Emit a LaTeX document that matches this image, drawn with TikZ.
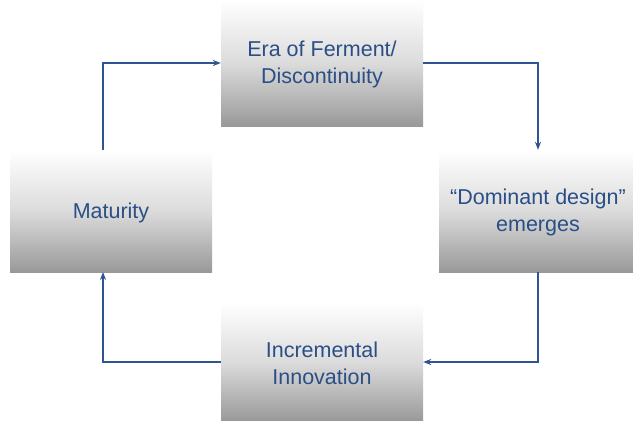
\documentclass[tikz,border=0pt]{standalone}
\usepackage{fontspec}
\setmainfont{Liberation Sans}
\usetikzlibrary{arrows.meta}
\definecolor{txtblue}{HTML}{2A4F86}
\definecolor{lineblue}{HTML}{2E5591}
\begin{document}
\begin{tikzpicture}[x=1pt,y=-1pt,
  box/.style={rectangle, inner sep=0pt, top color=white, bottom color=black!40,
    middle color=black!14, text=txtblue, align=center,
    font=\fontsize{21.5}{27}\selectfont},
  conn/.style={draw=lineblue, line width=1.4pt, -{Stealth[length=8pt,width=6pt]}}]
\useasboundingbox (0,0) rectangle (633,421);
\fill[white] (0,0) rectangle (633,421);
\node[box, minimum width=202pt, minimum height=126pt] (ferment) at (322,63) {\rule{0pt}{19pt}Era of Ferment/\\Discontinuity};
\node[box, minimum width=202pt, minimum height=122pt] (maturity) at (111,211) {\rule{0pt}{20pt}Maturity};
\node[box, minimum width=198pt, minimum height=122pt] (dominant) at (538,211) {\rule{0pt}{19pt}“Dominant design”\\emerges};
\node[box, minimum width=202pt, minimum height=118pt] (incr) at (322,362) {\rule{0pt}{19pt}Incremental\\Innovation};
\coordinate (ltop) at (103,150);
\coordinate (lbot) at (103,272);
\draw[conn] (ltop) |- (ferment.west);
\draw[conn] (ferment.east) -| (dominant.north);
\draw[conn] (dominant.south) |- (incr.east);
\draw[conn] (incr.west) -| (lbot);
\end{tikzpicture}
\end{document}
